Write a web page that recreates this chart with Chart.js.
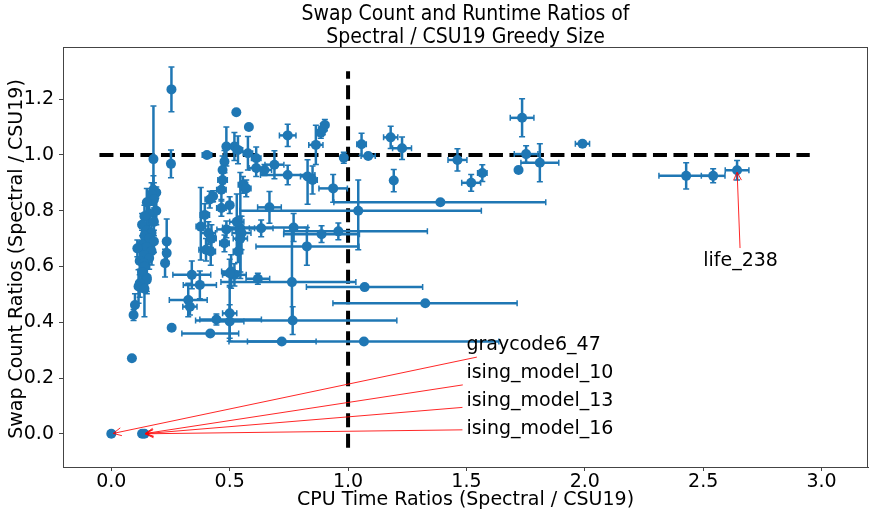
<!DOCTYPE html>
<html lang="en">
<head>
<meta charset="UTF-8">
<title>Swap Count and Runtime Ratios</title>
<script src="https://cdn.jsdelivr.net/npm/chart.js@4"></script>
<style>
  html, body { margin: 0; padding: 0; background: #fff; }
</style>
</head>
<body>
<canvas id="chart" width="873" height="516"></canvas>
<script>
// each row: [cpu ratio, swap ratio, cpu err low, cpu err high, swap err low, swap err high]
const nearOneRuns = [
  [0.254, 1.235, 0, 0, 0.08, 0.08],
  [0.528, 1.153, 0.01, 0.01, 0.005, 0.005],
  [0.581, 1.100, 0, 0, 0, 0],
  [0.745, 1.070, 0.035, 0.035, 0.04, 0.04],
  [0.902, 1.107, 0.015, 0.015, 0.02, 0.02],
  [0.893, 1.092, 0.01, 0.01, 0.02, 0.02],
  [0.885, 1.080, 0.01, 0.01, 0.02, 0.02],
  [0.864, 1.036, 0.03, 0.03, 0.07, 0.07],
  [0.178, 0.985, 0, 0, 0.15, 0.19],
  [0.252, 0.968, 0, 0, 0.05, 0.05],
  [0.404, 1.000, 0.02, 0.02, 0, 0],
  [0.486, 1.030, 0.01, 0.01, 0.07, 0.07],
  [0.520, 1.030, 0.01, 0.01, 0.05, 0.05],
  [0.535, 1.018, 0.02, 0.02, 0.05, 0.05],
  [0.577, 1.006, 0.02, 0.02, 0.06, 0.06],
  [0.612, 0.988, 0.02, 0.02, 0.04, 0.04],
  [0.689, 0.965, 0.04, 0.04, 0.05, 0.05],
  [0.612, 0.953, 0.03, 0.03, 0.03, 0.03],
  [0.647, 0.946, 0.03, 0.03, 0.02, 0.02],
  [0.745, 0.928, 0.115, 0.115, 0.035, 0.035],
  [0.829, 0.923, 0.03, 0.03, 0.10, 0.06],
  [0.850, 0.910, 0.02, 0.02, 0.05, 0.05],
  [0.937, 0.880, 0.06, 0.06, 0.05, 0.05],
  [0.982, 0.990, 0.01, 0.01, 0.02, 0.02],
  [1.057, 1.038, 0.02, 0.02, 0.04, 0.04],
  [1.085, 0.996, 0.03, 0.03, 0.01, 0.01],
  [1.180, 1.063, 0.03, 0.03, 0.04, 0.04],
  [1.228, 1.024, 0.04, 0.04, 0.04, 0.04],
  [1.193, 0.908, 0.01, 0.01, 0.04, 0.04],
  [1.462, 0.982, 0.04, 0.04, 0.04, 0.04],
  [1.520, 0.900, 0.04, 0.04, 0.03, 0.03],
  [1.567, 0.935, 0.02, 0.02, 0.03, 0.03],
  [1.720, 0.946, 0.01, 0.01, 0.01, 0.01],
  [1.735, 1.133, 0.05, 0.05, 0.068, 0.068],
  [1.752, 1.003, 0.05, 0.05, 0.03, 0.03],
  [1.810, 0.972, 0.08, 0.08, 0.068, 0.068],
  [1.990, 1.040, 0.03, 0.03, 0.01, 0.01],
  [2.428, 0.925, 0.115, 0.11, 0.047, 0.047],
  [2.542, 0.925, 0.05, 0.05, 0.025, 0.025],
  [2.643, 0.945, 0.05, 0.05, 0.035, 0.035]
];

const midRuns = [
  [0.478, 0.976, 0.01, 0.01, 0.04, 0.04],
  [0.470, 0.946, 0.01, 0.01, 0.05, 0.05],
  [0.470, 0.910, 0.02, 0.02, 0.03, 0.03],
  [0.465, 0.875, 0.02, 0.02, 0.04, 0.04],
  [0.556, 0.893, 0.02, 0.02, 0.03, 0.03],
  [0.570, 0.880, 0.02, 0.02, 0.03, 0.03],
  [0.430, 0.852, 0.01, 0.01, 0.02, 0.02],
  [0.416, 0.840, 0.02, 0.02, 0.03, 0.03],
  [0.500, 0.820, 0.01, 0.01, 0.03, 0.03],
  [0.465, 0.810, 0.02, 0.02, 0.03, 0.03],
  [0.395, 0.785, 0.02, 0.02, 0.04, 0.04],
  [0.668, 0.812, 0.05, 0.05, 0.057, 0.057],
  [0.378, 0.743, 0.02, 0.02, 0.12, 0.14],
  [0.410, 0.720, 0.03, 0.03, 0.04, 0.04],
  [0.423, 0.700, 0.02, 0.02, 0.05, 0.05],
  [0.545, 0.737, 0.06, 0.06, 0.18, 0.20],
  [0.530, 0.760, 0.03, 0.03, 0.10, 0.10],
  [0.550, 0.720, 0.04, 0.04, 0.06, 0.06],
  [0.545, 0.700, 0.03, 0.03, 0.12, 0.08],
  [0.633, 0.737, 0.05, 0.05, 0.03, 0.03],
  [0.486, 0.733, 0.04, 0.04, 0.03, 0.03],
  [0.478, 0.683, 0.02, 0.02, 0.03, 0.03],
  [0.400, 0.660, 0.03, 0.03, 0.04, 0.04],
  [0.420, 0.654, 0.02, 0.02, 0.05, 0.05],
  [0.535, 0.654, 0.02, 0.02, 0.04, 0.04],
  [0.506, 0.582, 0.04, 0.04, 0.06, 0.06],
  [0.520, 0.570, 0.05, 0.05, 0.04, 0.04],
  [0.500, 0.576, 0.03, 0.03, 0.05, 0.05],
  [0.340, 0.570, 0.08, 0.08, 0.05, 0.05],
  [0.374, 0.534, 0.07, 0.07, 0.05, 0.05],
  [0.325, 0.480, 0.08, 0.08, 0.06, 0.06],
  [0.332, 0.456, 0.03, 0.03, 0.03, 0.03],
  [0.444, 0.410, 0.07, 0.19, 0.02, 0.02],
  [0.500, 0.432, 0.03, 0.03, 0.10, 0.10],
  [0.500, 0.403, 0.06, 0.06, 0.06, 0.06],
  [0.418, 0.360, 0.12, 0.12, 0.01, 0.01],
  [0.255, 0.380, 0, 0, 0, 0],
  [0.087, 0.271, 0, 0, 0, 0]
];

const wideRuns = [
  [1.390, 0.830, 0.45, 0.445, 0, 0],
  [1.043, 0.800, 0.50, 0.52, 0.14, 0.11],
  [0.959, 0.726, 0.23, 0.376, 0.03, 0.03],
  [0.888, 0.716, 0.16, 0.16, 0.03, 0.03],
  [0.826, 0.672, 0.215, 0.22, 0.068, 0.068],
  [0.770, 0.740, 0.30, 0.06, 0.05, 0.05],
  [0.619, 0.556, 0.05, 0.05, 0.02, 0.02],
  [0.763, 0.544, 0.30, 0.27, 0.147, 0.20],
  [1.070, 0.526, 0.246, 0.245, 0, 0],
  [1.326, 0.468, 0.39, 0.388, 0, 0],
  [0.766, 0.406, 0.41, 0.44, 0.05, 0.05],
  [0.720, 0.331, 0.145, 0.145, 0, 0],
  [1.067, 0.331, 0.57, 0.57, 0, 0]
];

const leftRuns = [
  [0.178, 0.875, 0.01, 0.01, 0.05, 0.05],
  [0.190, 0.865, 0.01, 0.01, 0.02, 0.02],
  [0.170, 0.860, 0.01, 0.01, 0.04, 0.04],
  [0.180, 0.840, 0.01, 0.01, 0.06, 0.06],
  [0.150, 0.830, 0.01, 0.01, 0.05, 0.05],
  [0.190, 0.800, 0.01, 0.01, 0.05, 0.05],
  [0.160, 0.790, 0.01, 0.01, 0.06, 0.06],
  [0.140, 0.780, 0.01, 0.01, 0.04, 0.04],
  [0.180, 0.760, 0.01, 0.01, 0.05, 0.05],
  [0.130, 0.750, 0.01, 0.01, 0.04, 0.04],
  [0.150, 0.730, 0.01, 0.01, 0.06, 0.06],
  [0.170, 0.720, 0.01, 0.01, 0.05, 0.05],
  [0.140, 0.710, 0.01, 0.01, 0.04, 0.04],
  [0.160, 0.700, 0.01, 0.01, 0.05, 0.05],
  [0.180, 0.690, 0.01, 0.01, 0.04, 0.04],
  [0.130, 0.680, 0.01, 0.01, 0.05, 0.05],
  [0.150, 0.670, 0.01, 0.01, 0.04, 0.04],
  [0.170, 0.655, 0.01, 0.01, 0.05, 0.05],
  [0.110, 0.665, 0.01, 0.01, 0.03, 0.03],
  [0.140, 0.640, 0.01, 0.01, 0.06, 0.06],
  [0.160, 0.630, 0.01, 0.01, 0.04, 0.04],
  [0.120, 0.620, 0.01, 0.01, 0.05, 0.05],
  [0.136, 0.612, 0.01, 0.01, 0.05, 0.05],
  [0.140, 0.600, 0.01, 0.01, 0.06, 0.06],
  [0.130, 0.580, 0.01, 0.01, 0.04, 0.04],
  [0.150, 0.560, 0.01, 0.01, 0.05, 0.05],
  [0.150, 0.552, 0.01, 0.01, 0.05, 0.05],
  [0.120, 0.540, 0.01, 0.01, 0.05, 0.05],
  [0.115, 0.528, 0.01, 0.01, 0.06, 0.06],
  [0.140, 0.520, 0.01, 0.01, 0.10, 0.15],
  [0.100, 0.462, 0.01, 0.01, 0.04, 0.04],
  [0.094, 0.426, 0.01, 0.01, 0.02, 0.02],
  [0.227, 0.612, 0.01, 0.01, 0.05, 0.05],
  [0.234, 0.690, 0.01, 0.01, 0.08, 0.08],
  [0.234, 0.648, 0.01, 0.01, 0.03, 0.03]
];

const zeroRuns = [
  [0.000, 0.000, 0, 0, 0, 0],
  [0.130, 0.000, 0.01, 0.01, 0, 0],
  [0.140, 0.000, 0, 0, 0, 0]
];

const allRuns = [...nearOneRuns, ...midRuns, ...wideRuns, ...leftRuns, ...zeroRuns];

// dashed reference lines at ratio = 1
const refHorizontal = [{ x: -0.05, y: 1 }, { x: 2.95, y: 1 }];
const refVertical = [{ x: 1, y: -0.05 }, { x: 1, y: 1.3 }];

const xTicks = [0, 0.5, 1.0, 1.5, 2.0, 2.5, 3.0];
const yTicks = [0, 0.2, 0.4, 0.6, 0.8, 1.0, 1.2];

// annotations: label, text anchor (data), target point (data)
const noteLabels = ['life_238', 'graycode6_47', 'ising_model_10', 'ising_model_13', 'ising_model_16'];
const noteTextX = [2.5, 1.5, 1.5, 1.5, 1.5];
const noteTextY = [0.6, 0.3, 0.2, 0.1, 0.0];
const noteTargetX = [2.643, 0.0, 0.135, 0.135, 0.135];
const noteTargetY = [0.945, 0.0, 0.0, 0.0, 0.0];

const BLUE = '#1f77b4';
const FONT = '"DejaVu Sans", sans-serif';
const NOTE_SIZE = 19;

const errorBars = {
  id: 'errorBars',
  beforeDatasetDraw(chart, args) {
    if (args.index !== 2) return;
    const ctx = chart.ctx, xs = chart.scales.x, ys = chart.scales.y, a = chart.chartArea;
    const cap = 3;
    ctx.save();
    ctx.beginPath();
    ctx.rect(a.left, a.top, a.right - a.left, a.bottom - a.top);
    ctx.clip();
    ctx.strokeStyle = BLUE;
    allRuns.forEach(r => {
      const px = xs.getPixelForValue(r[0]);
      const py = ys.getPixelForValue(r[1]);
      if (r[2] || r[3]) {
        const x0 = xs.getPixelForValue(r[0] - r[2]);
        const x1 = xs.getPixelForValue(r[0] + r[3]);
        ctx.lineWidth = 2.5;
        ctx.beginPath(); ctx.moveTo(x0, py); ctx.lineTo(x1, py); ctx.stroke();
        ctx.lineWidth = 1.5;
        ctx.beginPath();
        ctx.moveTo(x0, py - cap); ctx.lineTo(x0, py + cap);
        ctx.moveTo(x1, py - cap); ctx.lineTo(x1, py + cap);
        ctx.stroke();
      }
      if (r[4] || r[5]) {
        const y0 = ys.getPixelForValue(r[1] - r[4]);
        const y1 = ys.getPixelForValue(r[1] + r[5]);
        ctx.lineWidth = 2.5;
        ctx.beginPath(); ctx.moveTo(px, y0); ctx.lineTo(px, y1); ctx.stroke();
        ctx.lineWidth = 1.5;
        ctx.beginPath();
        ctx.moveTo(px - cap, y0); ctx.lineTo(px + cap, y0);
        ctx.moveTo(px - cap, y1); ctx.lineTo(px + cap, y1);
        ctx.stroke();
      }
    });
    ctx.restore();
  }
};

const decorations = {
  id: 'decorations',
  afterDatasetsDraw(chart) {
    const ctx = chart.ctx, xs = chart.scales.x, ys = chart.scales.y, a = chart.chartArea;
    ctx.save();
    // annotation arrows: from the text box centre, clipped at the padded box edge
    ctx.font = NOTE_SIZE + 'px ' + FONT;
    noteLabels.forEach((lab, i) => {
      const tx = xs.getPixelForValue(noteTextX[i]);
      const ty = ys.getPixelForValue(noteTextY[i]);
      const w = ctx.measureText(lab).width;
      const top = ty - 0.76 * NOTE_SIZE - 2, bot = ty + 0.24 * NOTE_SIZE + 2;
      const left = tx - 2, right = tx + w + 2;
      const cx0 = (left + right) / 2, cy0 = (top + bot) / 2;
      const ex = xs.getPixelForValue(noteTargetX[i]);
      const ey = ys.getPixelForValue(noteTargetY[i]);
      const dx = ex - cx0, dy = ey - cy0;
      const tX = dx !== 0 ? ((dx > 0 ? right : left) - cx0) / dx : Infinity;
      const tY = dy !== 0 ? ((dy > 0 ? bot : top) - cy0) / dy : Infinity;
      const t = Math.min(tX, tY);
      const ang = Math.atan2(dy, dx);
      const sx = cx0 + t * dx + 2 * Math.cos(ang), sy = cy0 + t * dy + 2 * Math.sin(ang);
      const bx = ex - 2 * Math.cos(ang), by = ey - 2 * Math.sin(ang);
      ctx.strokeStyle = 'rgba(255,0,0,0.85)';
      ctx.lineWidth = 1;
      ctx.beginPath(); ctx.moveTo(sx, sy); ctx.lineTo(bx, by); ctx.stroke();
      const hl = 8, hw = 4;
      const hx = bx - hl * Math.cos(ang), hy = by - hl * Math.sin(ang);
      ctx.beginPath();
      ctx.moveTo(hx + hw * Math.sin(ang), hy - hw * Math.cos(ang));
      ctx.lineTo(bx, by);
      ctx.lineTo(hx - hw * Math.sin(ang), hy + hw * Math.cos(ang));
      ctx.stroke();
    });
    ctx.fillStyle = '#000';
    ctx.textBaseline = 'alphabetic';
    ctx.textAlign = 'left';
    noteLabels.forEach((lab, i) => {
      ctx.fillText(lab, xs.getPixelForValue(noteTextX[i]), ys.getPixelForValue(noteTextY[i]));
    });
    // box spines
    ctx.strokeStyle = '#444';
    ctx.lineWidth = 1;
    ctx.strokeRect(a.left + 0.5, a.top + 0.5, a.right - a.left - 1, a.bottom - a.top);
    // titles
    ctx.textAlign = 'center';
    ctx.textBaseline = 'middle';
    const mid = (a.left + a.right) / 2;
    ctx.font = '21px "DejaVu Sans Condensed", "DejaVu Sans", sans-serif';
    ctx.fillText('Swap Count and Runtime Ratios of', mid, 15);
    ctx.fillText('Spectral / CSU19 Greedy Size', mid, 38);
    ctx.font = '19px ' + FONT;
    ctx.fillText('CPU Time Ratios (Spectral / CSU19)', mid, 500);
    ctx.translate(17, (a.top + a.bottom) / 2 + 2);
    ctx.rotate(-Math.PI / 2);
    ctx.fillText('Swap Count Ratios (Spectral / CSU19)', 0, 0);
    ctx.restore();
  }
};

new Chart(document.getElementById('chart'), {
  type: 'scatter',
  data: {
    datasets: [
      { type: 'line', data: refHorizontal, borderColor: '#000', borderWidth: 4,
        borderDash: [14, 6.5], pointRadius: 0, fill: false, order: 3 },
      { type: 'line', data: refVertical, borderColor: '#000', borderWidth: 4,
        borderDash: [14, 6.5], pointRadius: 0, fill: false, order: 2 },
      { data: allRuns.map(r => ({ x: r[0], y: r[1] })), backgroundColor: BLUE,
        borderWidth: 0, pointRadius: 5, order: 1 }
    ]
  },
  options: {
    responsive: false,
    animation: false,
    events: [],
    layout: { padding: { top: 47, right: 2, left: 0, bottom: 0 } },
    plugins: { legend: { display: false }, tooltip: { enabled: false }, title: { display: false } },
    scales: {
      x: {
        type: 'linear', min: -0.204, max: 3.196,
        afterFit: s => { s.height = 49; },
        afterBuildTicks: s => { s.ticks = xTicks.map(v => ({ value: v })); },
        ticks: { color: '#000', font: { size: 19, family: FONT, lineHeight: 1 }, padding: 2,
          callback: v => v.toFixed(1), maxRotation: 0 },
        grid: { drawOnChartArea: false, drawTicks: true, tickLength: 4, color: '#444' },
        border: { display: true, color: '#444' }
      },
      y: {
        type: 'linear', min: -0.119, max: 1.387,
        afterFit: s => { s.width = 63; },
        afterBuildTicks: s => { s.ticks = yTicks.map(v => ({ value: v })); },
        ticks: { color: '#000', font: { size: 19, family: FONT }, padding: 5,
          callback: v => v.toFixed(1) },
        grid: { drawOnChartArea: false, drawTicks: true, tickLength: 4, color: '#444' },
        border: { display: true, color: '#444' }
      }
    }
  },
  plugins: [errorBars, decorations]
});
</script>
</body>
</html>
